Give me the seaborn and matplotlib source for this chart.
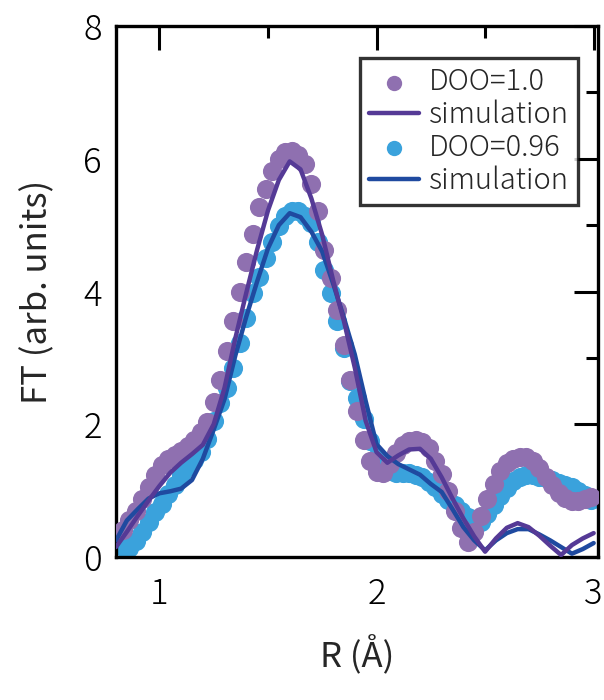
import matplotlib
matplotlib.use("Agg")
import matplotlib.pyplot as plt
import seaborn as sns
import pandas as pd

# ---- data ----
R_pts = [0.83, 0.86, 0.89, 0.92, 0.95, 0.98, 1.01, 1.04, 1.07, 1.10,
         1.13, 1.16, 1.19, 1.22, 1.25, 1.28, 1.31, 1.34, 1.37, 1.40,
         1.43, 1.46, 1.49, 1.52, 1.55, 1.58, 1.61, 1.64, 1.67, 1.70,
         1.73, 1.76, 1.79, 1.82, 1.85, 1.88, 1.91, 1.94, 1.97, 2.00,
         2.03, 2.06, 2.09, 2.12, 2.15, 2.18, 2.21, 2.24, 2.27, 2.30,
         2.33, 2.36, 2.39, 2.42, 2.45, 2.48, 2.51, 2.54, 2.57, 2.60,
         2.63, 2.66, 2.69, 2.72, 2.75, 2.78, 2.81, 2.84, 2.87, 2.90,
         2.93, 2.96, 2.99]
doo_100 = [0.41, 0.56, 0.70, 0.88, 1.06, 1.24, 1.38, 1.47, 1.54, 1.60,
           1.67, 1.76, 1.88, 2.04, 2.34, 2.67, 3.10, 3.55, 4.00, 4.45,
           4.87, 5.28, 5.55, 5.82, 6.00, 6.10, 6.12, 6.06, 5.92, 5.62,
           5.22, 4.62, 4.20, 3.72, 3.20, 2.67, 2.20, 1.76, 1.45, 1.28,
           1.27, 1.40, 1.56, 1.68, 1.75, 1.77, 1.74, 1.64, 1.45, 1.25,
           1.00, 0.70, 0.43, 0.22, 0.38, 0.62, 0.87, 1.10, 1.29, 1.41,
           1.48, 1.51, 1.50, 1.44, 1.34, 1.21, 1.08, 0.97, 0.89, 0.84,
           0.84, 0.87, 0.90]
doo_096 = [0.15, 0.13, 0.24, 0.38, 0.53, 0.68, 0.80, 0.95, 1.09, 1.23,
           1.35, 1.46, 1.58, 1.78, 2.05, 2.32, 2.55, 2.84, 3.22, 3.60,
           3.98, 4.22, 4.50, 4.75, 4.98, 5.14, 5.22, 5.22, 5.14, 5.03,
           4.75, 4.33, 3.98, 3.55, 3.15, 2.65, 2.40, 2.08, 1.75, 1.50,
           1.38, 1.30, 1.27, 1.27, 1.26, 1.24, 1.20, 1.13, 1.05, 0.95,
           0.86, 0.78, 0.70, 0.60, 0.52, 0.52, 0.65, 0.78, 0.92, 1.04,
           1.14, 1.20, 1.23, 1.23, 1.21, 1.19, 1.16, 1.12, 1.09, 1.05,
           1.00, 0.93, 0.86]

R_sim = [0.80, 0.85, 0.90, 0.95, 1.00, 1.05, 1.10, 1.15, 1.20, 1.25,
         1.30, 1.35, 1.40, 1.45, 1.50, 1.55, 1.60, 1.65, 1.70, 1.75,
         1.80, 1.85, 1.90, 1.95, 2.00, 2.05, 2.10, 2.15, 2.20, 2.25,
         2.30, 2.35, 2.40, 2.45, 2.50, 2.55, 2.60, 2.65, 2.70, 2.75,
         2.80, 2.85, 2.90, 2.95, 3.00]
sim_100 = [0.15, 0.38, 0.62, 0.85, 1.07, 1.27, 1.42, 1.55, 1.69, 2.00,
           2.55, 3.30, 3.98, 4.63, 5.22, 5.68, 5.96, 5.84, 5.40, 4.85,
           4.17, 3.55, 2.85, 2.05, 1.58, 1.42, 1.53, 1.62, 1.63, 1.48,
           1.20, 0.88, 0.58, 0.31, 0.08, 0.28, 0.44, 0.51, 0.45, 0.32,
           0.17, 0.03, 0.18, 0.28, 0.36]
sim_096 = [0.25, 0.55, 0.72, 0.88, 0.96, 0.99, 1.03, 1.16, 1.48, 1.92,
           2.38, 3.04, 3.62, 4.15, 4.65, 5.00, 5.18, 5.12, 4.90, 4.60,
           4.12, 3.60, 3.05, 2.35, 1.70, 1.52, 1.40, 1.32, 1.24, 1.10,
           0.98, 0.72, 0.45, 0.25, 0.10, 0.25, 0.36, 0.42, 0.42, 0.34,
           0.25, 0.15, 0.05, 0.12, 0.21]

labels = ["DOO=1.0", "simulation", "DOO=0.96", "simulation"]
x_ticks = [1, 2, 3]
y_ticks = [0, 2, 4, 6, 8]

c_pts1 = "#8f70b0"
c_sim1 = "#553a96"
c_pts2 = "#3aa2dc"
c_sim2 = "#1f4aa0"

df_pts = pd.DataFrame({"R": R_pts, "d1": doo_100, "d2": doo_096})
df_sim = pd.DataFrame({"R": R_sim, "s1": sim_100, "s2": sim_096})

sns.set_theme(style="white")
plt.rcParams["font.family"] = ["Noto Sans CJK JP", "DejaVu Sans"]
plt.rcParams["font.weight"] = 300

fig = plt.figure(figsize=(6.04, 7.0), dpi=100)
ax = fig.add_axes([116/604, 1-557/700, (598-116)/604, (557-26)/700])

sns.scatterplot(data=df_pts, x="R", y="d2", ax=ax, color=c_pts2, s=190,
                linewidth=0, zorder=2, label=labels[2])
sns.scatterplot(data=df_pts, x="R", y="d1", ax=ax, color=c_pts1, s=190,
                linewidth=0, zorder=3, label=labels[0])
sns.lineplot(data=df_sim, x="R", y="s2", ax=ax, color=c_sim2, linewidth=3.2,
             zorder=4, label=labels[3])
sns.lineplot(data=df_sim, x="R", y="s1", ax=ax, color=c_sim1, linewidth=3.2,
             zorder=5, label=labels[1])

ax.set_xlim(0.8, 3.02)
ax.set_ylim(0, 8)
ax.set_xticks(x_ticks)
ax.set_yticks(y_ticks)
ax.set_xticks([1.5, 2.5], minor=True)
ax.set_yticks([1, 3, 5, 7], minor=True)
ax.tick_params(which="both", direction="in", top=True, right=True,
               width=2.2, colors="black", labelsize=25)
ax.tick_params(which="major", length=17)
ax.tick_params(which="minor", length=8.5)
ax.tick_params(axis="x", pad=14)
ax.tick_params(axis="y", pad=10)
for sp in ax.spines.values():
    sp.set_linewidth(2.4)
    sp.set_color("black")
    sp.set_visible(True)

ax.set_xlabel("R (Å)", fontsize=25, labelpad=17)
ax.set_ylabel("FT (arb. units)", fontsize=25, labelpad=20)

h, l = ax.get_legend_handles_labels()
handles = [h[1], h[3], h[0], h[2]]
leg = ax.legend(handles, labels, loc="upper right",
                bbox_to_anchor=((578-116)/(598-116), 1-(58-26)/531),
                borderaxespad=0, fontsize=21, frameon=True, fancybox=False,
                edgecolor="black", handlelength=1.7, handletextpad=0.36,
                labelspacing=0.08, borderpad=0.3, markerscale=0.8)
leg.get_frame().set_linewidth(2.4)

fig.savefig("out.png", dpi=100)
